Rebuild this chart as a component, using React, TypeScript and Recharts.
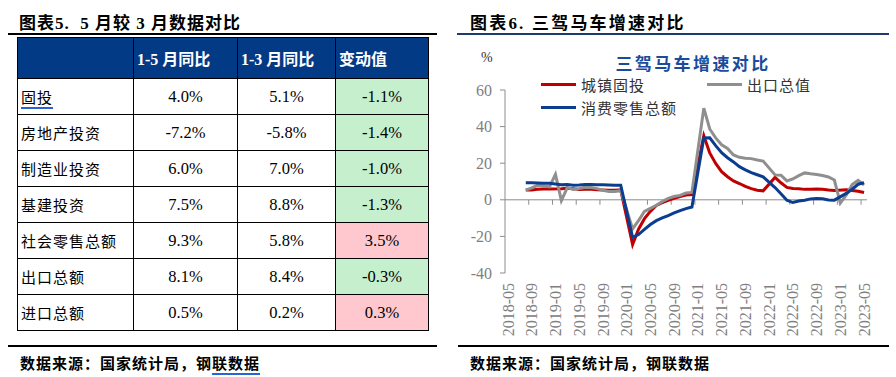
import React from "react";
import { LineChart, Line, XAxis, YAxis, ReferenceLine } from "recharts";

const SERIF = '"Liberation Serif", "Times New Roman", "Noto Sans CJK SC", serif';
const CJK = '"Liberation Serif", "Noto Sans CJK SC", sans-serif';

// ---- 表格：5 月较 3 月 ----
const rowNames = ["固投", "房地产投资", "制造业投资", "基建投资", "社会零售总额", "出口总额", "进口总额"];
const ytdMay = [4.0, -7.2, 6.0, 7.5, 9.3, 8.1, 0.5];
const ytdMar = [5.1, -5.8, 7.0, 8.8, 5.8, 8.4, 0.2];
const change = [-1.1, -1.4, -1.0, -1.3, 3.5, -0.3, 0.3];
const headers = ["", "1-5 月同比", "1-3 月同比", "变动值"];

// ---- 折线：三驾马车（累计同比，%）----
const months: string[] = [];
for (let y = 2018; y <= 2023; y++) {
  for (let m = 1; m <= 12; m++) {
    if ((y === 2018 && m < 5) || (y === 2023 && m > 5)) continue;
    months.push(`${y}-${String(m).padStart(2, "0")}`);
  }
}

const fai = [
  null, null, null, 5.3, 5.4, 5.7, 5.9, 5.9,
  null, 6.1, 6.3, 6.1, 5.6, 5.8, 5.7, 5.5, 5.4, 5.2, 5.2, 5.4,
  null, -24.5, -16.1, -10.3, -6.3, -3.1, -1.6, -0.3, 0.8, 1.8, 2.6, 2.9,
  null, 35.0, 25.6, 19.9, 15.4, 12.6, 10.3, 8.9, 7.3, 6.1, 5.2, 4.9,
  null, 12.2, 9.3, 6.8, 6.2, 6.1, 5.7, 5.8, 5.9, 5.8, 5.3, 5.1,
  null, 5.5, 5.1, 4.7, 4.0,
];
const exportsYoy = [
  null, null, null, 5.3, 6.5, 7.9, 7.5, 7.1,
  13.9, -0.4, 6.7, 5.7, 6.1, 6.9, 6.7, 6.1, 5.2, 4.6, 4.6, 5.0,
  null, -15.9, -11.4, -6.4, -4.7, -3.0, -0.9, 0.8, 1.8, 2.4, 3.7, 4.0,
  null, 50.1, 38.7, 33.8, 30.1, 28.1, 24.5, 23.2, 22.7, 22.5, 21.8, 21.2,
  null, 13.6, 13.4, 10.3, 11.4, 13.2, 14.7, 14.2, 13.8, 13.3, 12.5, 10.8,
  -1.8, 2.5, 8.4, 10.6, 8.1,
];
const retail = [
  null, null, null, 9.3, 9.3, 9.2, 9.1, 9.0,
  null, 8.2, 8.3, 8.0, 8.1, 8.4, 8.3, 8.2, 8.2, 8.1, 8.0, 8.0,
  null, -20.5, -19.0, -16.2, -13.5, -11.4, -9.9, -8.6, -7.2, -5.9, -4.8, -3.9,
  null, 33.8, 33.9, 29.6, 25.7, 23.0, 20.7, 18.1, 16.4, 14.9, 13.7, 12.5,
  null, 6.7, 3.3, -0.2, -1.5, -0.7, -0.2, 0.5, 0.7, 0.6, -0.1, -0.2,
  null, 3.5, 5.8, 8.5, 9.3,
];

const series = [
  { key: "fai", name: "城镇固投", color: "#C00000" },
  { key: "exports", name: "出口总值", color: "#8F8F8F" },
  { key: "retail", name: "消费零售总额", color: "#0B3D8F" },
];

const yTicks = [-40, -20, 0, 20, 40, 60];
const labelTicks = months.map((_, i) => i).filter((i) => i % 4 === 0);
// 刻度线落在各标签区间之间
const tickMarks = labelTicks.slice(0, -1).map((i) => i + 3.5);

const rows = months.map((m, i) => ({
  idx: i,
  month: m,
  fai: fai[i],
  exports: exportsYoy[i],
  retail: retail[i],
}));

const pct = (v: number) => `${v.toFixed(1)}%`;

const link = {
  textDecoration: "underline",
  textDecorationColor: "#2A62D8",
  textUnderlineOffset: 4,
  textDecorationThickness: 1.5,
} as const;

const MonthTick = (props: any) => {
  const { x, y, payload } = props;
  const ty = y + 2;
  return (
    <text
      x={x}
      y={ty}
      transform={`rotate(-90, ${x}, ${ty})`}
      textAnchor="end"
      dy="0.35em"
      fill="#808080"
      fontSize={16}
      fontFamily={SERIF}
    >
      {months[payload.value]}
    </text>
  );
};

const cellBorder = "1px solid #000";

function TablePanel() {
  return (
    <>
      <div
        style={{
          position: "absolute", left: 19, top: 9, fontSize: 17, fontWeight: 700,
          fontFamily: CJK, whiteSpace: "pre", letterSpacing: 1, color: "#000",
        }}
      >
        图表5.  5 月较 3 月数据对比
      </div>
      <div style={{ position: "absolute", left: 8, top: 33, width: 429, height: 2, background: "#000" }} />
      <table
        style={{
          position: "absolute", left: 17, top: 37, width: 411, borderCollapse: "collapse",
          tableLayout: "fixed", fontFamily: SERIF, color: "#000",
        }}
      >
        <colgroup>
          <col style={{ width: 116 }} />
          <col style={{ width: 104 }} />
          <col style={{ width: 98 }} />
          <col style={{ width: 93 }} />
        </colgroup>
        <tbody>
          <tr style={{ height: 41 }}>
            {headers.map((h, i) => (
              <td
                key={i}
                style={{
                  background: "#023A85", color: "#fff", fontWeight: 700, fontSize: 16,
                  border: cellBorder, padding: "0 0 0 3px", whiteSpace: "pre", fontFamily: CJK,
                }}
              >
                {h}
              </td>
            ))}
          </tr>
          {rowNames.map((name, i) => (
            <tr key={name} style={{ height: 36 }}>
              <td style={{ border: cellBorder, padding: "0 0 0 3px", fontSize: 15, letterSpacing: 1, fontFamily: CJK }}>
                <span style={i === 0 ? link : undefined}>{name}</span>
              </td>
              <td style={{ border: cellBorder, textAlign: "center", fontSize: 16.5, padding: 0 }}>{pct(ytdMay[i])}</td>
              <td style={{ border: cellBorder, textAlign: "center", fontSize: 16.5, padding: 0 }}>{pct(ytdMar[i])}</td>
              <td
                style={{
                  border: cellBorder, textAlign: "center", fontSize: 16.5, padding: 0,
                  background: change[i] < 0 ? "#C6EFCE" : "#FFC7CE",
                }}
              >
                {pct(change[i])}
              </td>
            </tr>
          ))}
        </tbody>
      </table>
      <div style={{ position: "absolute", left: 8, top: 345, width: 429, height: 1.5, background: "#000" }} />
      <div style={{ position: "absolute", left: 20, top: 352, fontSize: 15, fontWeight: 700, fontFamily: CJK, letterSpacing: 1 }}>
        数据来源：国家统计局，钢<span style={link}>联数据</span>
      </div>
    </>
  );
}

function ChartPanel() {
  return (
    <>
      <div
        style={{
          position: "absolute", left: 470, top: 9, fontSize: 17, fontWeight: 700,
          fontFamily: CJK, whiteSpace: "pre", letterSpacing: 2.2, color: "#000",
        }}
      >
        图表6. 三驾马车增速对比
      </div>
      <div style={{ position: "absolute", left: 457, top: 33, width: 432, height: 1.5, background: "#1F3A6E" }} />

      <div style={{ position: "absolute", left: 457, top: 40 }}>
        <LineChart width={432} height={300} data={rows} margin={{ top: 50, right: 22, bottom: 7, left: 8 }}>
          <XAxis
            type="number"
            dataKey="idx"
            domain={[-0.5, months.length - 0.5]}
            ticks={labelTicks}
            interval={0}
            axisLine={false}
            tickLine={false}
            height={60}
            tick={<MonthTick />}
          />
          <YAxis
            domain={[-40, 60]}
            ticks={yTicks}
            width={40}
            tickSize={5}
            tickMargin={8}
            axisLine={{ stroke: "#8C8C8C" }}
            tickLine={{ stroke: "#8C8C8C" }}
            tick={{ fill: "#808080", fontSize: 16, fontFamily: SERIF }}
          />
          <ReferenceLine y={0} stroke="#8C8C8C" />
          {tickMarks.map((t) => (
            <ReferenceLine
              key={t}
              segment={[{ x: t, y: 0 }, { x: t, y: -2.7 }]}
              stroke="#8C8C8C"
              ifOverflow="visible"
            />
          ))}
          {series.map((s) => (
            <Line
              key={s.key}
              type="linear"
              dataKey={s.key}
              name={s.name}
              stroke={s.color}
              strokeWidth={3}
              dot={false}
              activeDot={false}
              connectNulls
              isAnimationActive={false}
            />
          ))}
        </LineChart>
      </div>

      <div style={{ position: "absolute", left: 481, top: 50, fontSize: 14, fontFamily: SERIF, color: "#333" }}>%</div>
      <div
        style={{
          position: "absolute", left: 613, top: 50, width: 160, textAlign: "center", fontSize: 17,
          fontWeight: 700, fontFamily: CJK, letterSpacing: 2.4, color: "#1C4B9B", whiteSpace: "nowrap",
        }}
      >
        三驾马车增速对比
      </div>

      <div
        style={{
          position: "absolute", left: 541, top: 74, width: 340, display: "flex", flexWrap: "wrap",
          rowGap: 2, fontFamily: CJK, fontSize: 15, color: "#333", letterSpacing: 1,
        }}
      >
        {series.map((s) => (
          <div key={s.key} style={{ width: 166, height: 21, display: "flex", alignItems: "center" }}>
            <span style={{ display: "inline-block", width: 35, height: 3, background: s.color, marginRight: 5 }} />
            <span>{s.name}</span>
          </div>
        ))}
      </div>

      <div style={{ position: "absolute", left: 458, top: 345, width: 431, height: 1.5, background: "#000" }} />
      <div style={{ position: "absolute", left: 470, top: 352, fontSize: 15, fontWeight: 700, fontFamily: CJK, letterSpacing: 1 }}>
        数据来源：国家统计局，钢联数据
      </div>
    </>
  );
}

export default function App() {
  return (
    <div
      style={{
        position: "fixed", left: 0, top: 0, width: 896, height: 377,
        background: "#fff", overflow: "hidden",
      }}
    >
      <TablePanel />
      <ChartPanel />
    </div>
  );
}
